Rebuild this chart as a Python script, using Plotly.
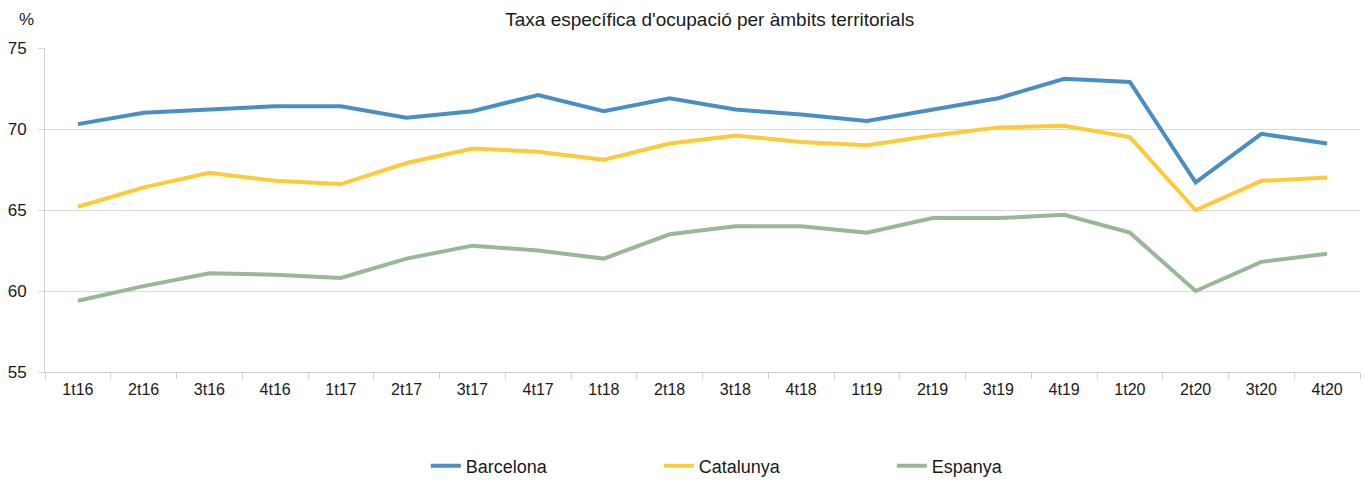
import plotly.graph_objects as go

quarters = ["1t16", "2t16", "3t16", "4t16", "1t17", "2t17", "3t17", "4t17", "1t18", "2t18",
            "3t18", "4t18", "1t19", "2t19", "3t19", "4t19", "1t20", "2t20", "3t20", "4t20"]
barcelona = [70.3, 71.0, 71.2, 71.4, 71.4, 70.7, 71.1, 72.1, 71.1, 71.9,
             71.2, 70.9, 70.5, 71.2, 71.9, 73.1, 72.9, 66.7, 69.7, 69.1]
catalunya = [65.2, 66.4, 67.3, 66.8, 66.6, 67.9, 68.8, 68.6, 68.1, 69.1,
             69.6, 69.2, 69.0, 69.6, 70.1, 70.2, 69.5, 65.0, 66.8, 67.0]
espanya = [59.4, 60.3, 61.1, 61.0, 60.8, 62.0, 62.8, 62.5, 62.0, 63.5,
           64.0, 64.0, 63.6, 64.5, 64.5, 64.7, 63.6, 60.0, 61.8, 62.3]

series = [("Barcelona", barcelona, "#4a8fc4"),
          ("Catalunya", catalunya, "#ffca38"),
          ("Espanya", espanya, "#98b898")]

fig = go.Figure()
for name, vals, color in series:
    fig.add_trace(go.Scatter(x=quarters, y=vals, name=name, mode="lines",
                             line=dict(color=color, width=4)))

fig.update_layout(
    width=1365, height=484,
    paper_bgcolor="white", plot_bgcolor="white",
    font=dict(family="Liberation Sans, Arial, sans-serif", color="#1a1a1a"),
    margin=dict(l=45, r=5, t=48, b=112, autoexpand=False),
    title=dict(text="Taxa específica d'ocupació per àmbits territorials",
               x=0.52, xanchor="center", y=0.961, yanchor="middle",
               font=dict(size=19, color="#1a1a1a")),
    legend=dict(orientation="h", x=0.2896, xanchor="left", y=-0.29, yanchor="middle",
                entrywidth=188, entrywidthmode="pixels", font=dict(size=18)),
    annotations=[dict(text="%", xref="paper", yref="paper", x=-0.021, y=1.0,
                      yshift=40, showarrow=False, font=dict(size=17, color="#1a1a1a"))],
)
fig.update_xaxes(showgrid=False, showline=True, linecolor="#d0d0d0",
                 ticks="outside", tickson="boundaries", ticklen=6, tickcolor="#d0d0d0",
                 tickfont=dict(size=16), ticklabelstandoff=3, range=[-0.5, 19.5])
fig.update_yaxes(range=[55, 75], dtick=5, showgrid=True, gridcolor="#d9d9d9",
                 zeroline=False, showline=True, linecolor="#d0d0d0",
                 ticks="outside", ticklen=6, tickcolor="#d9d9d9",
                 tickfont=dict(size=17), ticklabelstandoff=8)

fig.write_html("out.html", config={"displayModeBar": False},
               post_script="document.body.style.margin='0px';")
